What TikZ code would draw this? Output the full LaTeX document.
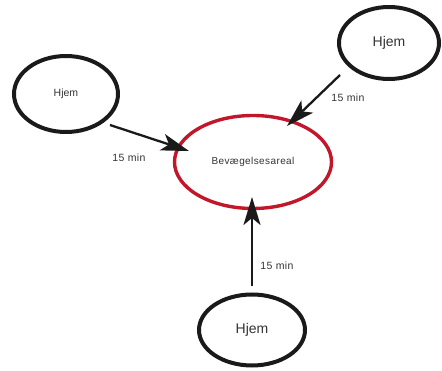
\documentclass[tikz,border=0pt]{standalone}
\usepackage{fontspec}
\setmainfont{Liberation Sans}
\usetikzlibrary{shapes.geometric,arrows.meta}
\definecolor{brushred}{HTML}{C2172B}
\definecolor{brushblack}{HTML}{1A1A1A}
\definecolor{txtgray}{HTML}{333333}
\tikzset{
  home/.style={ellipse, draw=brushblack, line width=4pt, inner sep=0pt, text=txtgray},
  area/.style={ellipse, draw=brushred, line width=3.4pt, inner sep=0pt, text=txtgray},
  conn/.style={line width=2.3pt, draw=brushblack, -{Stealth[length=28pt,width=17pt,inset=7pt]}},
  lbl/.style={text=txtgray, font=\fontsize{10.5}{12}\selectfont\addfontfeatures{LetterSpace=4}},
}
\begin{document}
\begin{tikzpicture}[x=1pt,y=-1pt]
\useasboundingbox (0,0) rectangle (442,371);
\node[home, minimum width=104pt, minimum height=76pt, font=\fontsize{10.5}{12}\selectfont] (h1) at (66,94) {Hjem};
\node[home, minimum width=100pt, minimum height=72pt, font=\fontsize{14}{16}\selectfont] (h2) at (389,43) {Hjem};
\node[home, minimum width=106pt, minimum height=71pt, font=\fontsize{14}{16}\selectfont] (h3) at (252,330) {Hjem};
\node[area, minimum width=157pt, minimum height=93pt, font=\fontsize{10}{12}\selectfont\addfontfeatures{LetterSpace=4}] (c) at (253,162) {Bevægelsesareal};
\coordinate (s1) at (110,125);
\coordinate (t1) at (189,151);
\coordinate (s2) at (340,75);
\coordinate (t2) at (287,126);
\coordinate (s3) at (252,286);
\coordinate (t3) at (252,197);
\draw[conn] (s1) -- (t1);
\draw[conn] (s2) -- (t2);
\draw[conn] (s3) -- (t3);
\node[lbl] (l1) at (129,158) {15 min};
\node[lbl] (l2) at (348,98) {15 min};
\node[lbl] (l3) at (277,266) {15 min};
\end{tikzpicture}
\end{document}
